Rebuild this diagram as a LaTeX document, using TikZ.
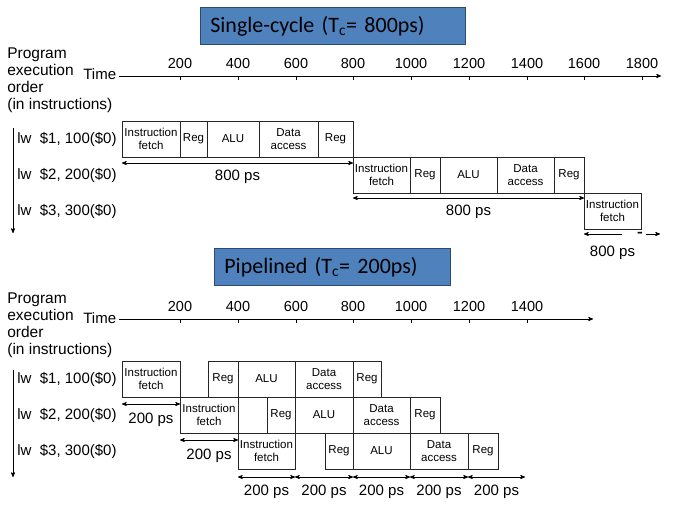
\documentclass[tikz,border=0pt]{standalone}
\usepackage{fontspec}
\setmainfont{Liberation Sans}
\newfontfamily\bannerfont{Carlito}
\usepackage{tikz}
\usetikzlibrary{positioning, calc, arrows}
\definecolor{bannerblue}{HTML}{4F81BD}
\definecolor{banneredge}{HTML}{2C4A72}

\begin{document}
\begin{tikzpicture}[x=1pt, y=-1pt, >=stealth', line width=.7pt,
  stage/.style={draw=black!85, rectangle, inner sep=0pt, outer sep=0pt, minimum height=36pt, align=center, font=\fontsize{11.5}{12.5}\selectfont},
  banner/.style={draw=banneredge, fill=bannerblue, rectangle, inner xsep=10pt, inner ysep=0pt, minimum height=37pt, text width=#1, align=left, font=\bannerfont\fontsize{22}{26}\selectfont},
  head/.style={inner sep=0pt, align=left, font=\fontsize{15.5}{17.3}\selectfont},
  lbl/.style={inner sep=0pt, font=\fontsize{15}{17}\selectfont},
  tick/.style={inner sep=0pt, anchor=south, yshift=7pt, font=\fontsize{14.5}{16}\selectfont},
  ]
  \useasboundingbox (0,0) rectangle (684,508);
  \coordinate (lft) at (17,0);

  % single-cycle
  \node[banner=245pt, anchor=north west] (single) at (200,7) {Single-cycle (T\textsubscript{c}= 800ps)};
  \node[head, anchor=north west] (shead) at (7,47) {Program\\execution\\order\\(in instructions)};
  \node[lbl, anchor=base west] (stime) at (83,80) {Time};
  \coordinate (saxis) at (119,76);
  \coordinate (saxisend) at (661,76);
  \draw[->] (saxis) -- (saxisend);
  \draw (180,76) node[tick] (s200) {200} -- ++(0,4);
  \draw (238,76) node[tick] (s400) {400} -- ++(0,4);
  \draw (296,76) node[tick] (s600) {600} -- ++(0,4);
  \draw (353,76) node[tick] (s800) {800} -- ++(0,4);
  \draw (411,76) node[tick] (s1000) {1000} -- ++(0,4);
  \draw (469,76) node[tick] (s1200) {1200} -- ++(0,4);
  \draw (527,76) node[tick] (s1400) {1400} -- ++(0,4);
  \draw (584,76) node[tick] (s1600) {1600} -- ++(0,4);
  \draw (642,76) node[tick] (s1800) {1800} -- ++(0,4);

  \node[stage, minimum width=58pt, anchor=north west] (s1if) at (122,121) {Instruction\\fetch};
  \node[stage, minimum width=27pt, right=0pt of s1if] (s1id) {Reg};
  \node[stage, minimum width=52pt, right=0pt of s1id] (s1ex) {ALU};
  \node[stage, minimum width=59pt, right=0pt of s1ex] (s1mem) {Data\\access};
  \node[stage, minimum width=35pt, right=0pt of s1mem] (s1wb) {Reg};

  \node[stage, minimum width=57pt, anchor=north west] (s2if) at (s1wb.south east) {Instruction\\fetch};
  \node[stage, minimum width=30pt, right=0pt of s2if] (s2id) {Reg};
  \node[stage, minimum width=57pt, right=0pt of s2id] (s2ex) {ALU};
  \node[stage, minimum width=57pt, right=0pt of s2ex] (s2mem) {Data\\access};
  \node[stage, minimum width=30pt, right=0pt of s2mem] (s2wb) {Reg};

  \node[stage, minimum width=57pt, anchor=north west] (s3if) at (s2wb.south east) {Instruction\\fetch};

  \node[lbl, anchor=west] (s1lw) at (s1if.west -| lft) {lw\ \ \$1, 100(\$0)};
  \node[lbl, anchor=west] (s2lw) at (s2if.west -| lft) {lw\ \ \$2, 200(\$0)};
  \node[lbl, anchor=west] (s3lw) at (s3if.west -| lft) {lw\ \ \$3, 300(\$0)};
  \coordinate (stop) at (13,128);
  \coordinate (sbot) at (13,233);
  \draw[->] (stop) -- (sbot);

  \path[<->]
    ([yshift=-6pt]s1if.south west) edge node[below=7pt, lbl] (s1t) {800 ps} ([yshift=-6pt]s1wb.south east)
    ([yshift=-5pt]s2if.south west) edge node[below=7pt, lbl] (s2t) {800 ps} ([yshift=-5pt]s2wb.south east);
  \coordinate (s3a) at ([xshift=38pt, yshift=-5pt]s3if.south west);
  \draw[->] (s3a) -- ([yshift=-5pt]s3if.south west);
  \node[inner sep=0pt, font=\fontsize{7}{7}\selectfont] (sdots) at ([xshift=-1pt, yshift=-5pt]s3if.south east) {\textbullet\kern-1pt\textbullet\kern-1pt\textbullet};
  \draw[->] ([xshift=5pt, yshift=-5pt]s3if.south east) -- ([xshift=19pt, yshift=-5pt]s3if.south east);
  \node[lbl, below=17pt of s3if.south] (s3t) {800 ps};

  % pipelined
  \node[banner=216pt, anchor=north west] (pipe) at (214,248) {Pipelined (T\textsubscript{c}= 200ps)};
  \node[head, anchor=north west] (phead) at (7,292) {Program\\execution\\order\\(in instructions)};
  \node[lbl, anchor=base west] (ptime) at (83,323) {Time};
  \coordinate (paxis) at (119,319);
  \coordinate (paxisend) at (593,319);
  \draw[->] (paxis) -- (paxisend);
  \draw (180,319) node[tick] (p200) {200} -- ++(0,4);
  \draw (238,319) node[tick] (p400) {400} -- ++(0,4);
  \draw (296,319) node[tick] (p600) {600} -- ++(0,4);
  \draw (353,319) node[tick] (p800) {800} -- ++(0,4);
  \draw (411,319) node[tick] (p1000) {1000} -- ++(0,4);
  \draw (469,319) node[tick] (p1200) {1200} -- ++(0,4);
  \draw (527,319) node[tick] (p1400) {1400} -- ++(0,4);

  \node[stage, minimum width=58pt, anchor=north west] (p1if) at (122,361) {Instruction\\fetch};
  \node[stage, minimum width=30pt, right=28pt of p1if] (p1id) {Reg};
  \node[stage, minimum width=57pt, right=0pt of p1id] (p1ex) {ALU};
  \node[stage, minimum width=58pt, right=0pt of p1ex] (p1mem) {Data\\access};
  \node[stage, minimum width=28pt, right=0pt of p1mem] (p1wb) {Reg};

  \node[stage, minimum width=58pt, anchor=north west] (p2if) at (p1if.south east) {Instruction\\fetch};
  \node[stage, minimum width=28pt, right=29pt of p2if] (p2id) {Reg};
  \node[stage, minimum width=58pt, right=0pt of p2id] (p2ex) {ALU};
  \node[stage, minimum width=57pt, right=0pt of p2ex] (p2mem) {Data\\access};
  \node[stage, minimum width=30pt, right=0pt of p2mem] (p2wb) {Reg};

  \node[stage, minimum width=57pt, anchor=north west] (p3if) at (p2if.south east) {Instruction\\fetch};
  \node[stage, minimum width=28pt, right=30pt of p3if] (p3id) {Reg};
  \node[stage, minimum width=57pt, right=0pt of p3id] (p3ex) {ALU};
  \node[stage, minimum width=58pt, right=0pt of p3ex] (p3mem) {Data\\access};
  \node[stage, minimum width=30pt, right=0pt of p3mem] (p3wb) {Reg};

  \node[lbl, anchor=west] (p1lw) at (p1if.west -| lft) {lw\ \ \$1, 100(\$0)};
  \node[lbl, anchor=west] (p2lw) at (p2if.west -| lft) {lw\ \ \$2, 200(\$0)};
  \node[lbl, anchor=west] (p3lw) at (p3if.west -| lft) {lw\ \ \$3, 300(\$0)};
  \coordinate (ptop) at (13,370);
  \coordinate (pbot) at (13,477);
  \draw[->] (ptop) -- (pbot);

  \coordinate (pend) at ([xshift=57pt, yshift=-8pt]p3mem.south east);
  \path[<->]
    ([yshift=-7pt]p1if.south west) edge node[below=9pt, lbl] (p1t) {200 ps} ([yshift=-7pt]p1if.south east)
    ([yshift=-7pt]p2if.south west) edge node[below=9pt, lbl] (p2t) {200 ps} ([yshift=-7pt]p2if.south east)
    ([yshift=-8pt]p3if.south west) edge node[below=8pt, lbl] (p3t1) {200 ps} ([yshift=-8pt]p3if.south east)
    ([yshift=-8pt]p3if.south east) edge node[below=8pt, lbl] (p3t2) {200 ps} ([yshift=-8pt]p3id.south east)
    ([yshift=-8pt]p3id.south east) edge node[below=8pt, lbl] (p3t3) {200 ps} ([yshift=-8pt]p3ex.south east)
    ([yshift=-8pt]p3ex.south east) edge node[below=8pt, lbl] (p3t4) {200 ps} ([yshift=-8pt]p3mem.south east)
    ([yshift=-8pt]p3mem.south east) edge node[below=8pt, lbl] (p3t5) {200 ps} (pend);
\end{tikzpicture}
\end{document}
